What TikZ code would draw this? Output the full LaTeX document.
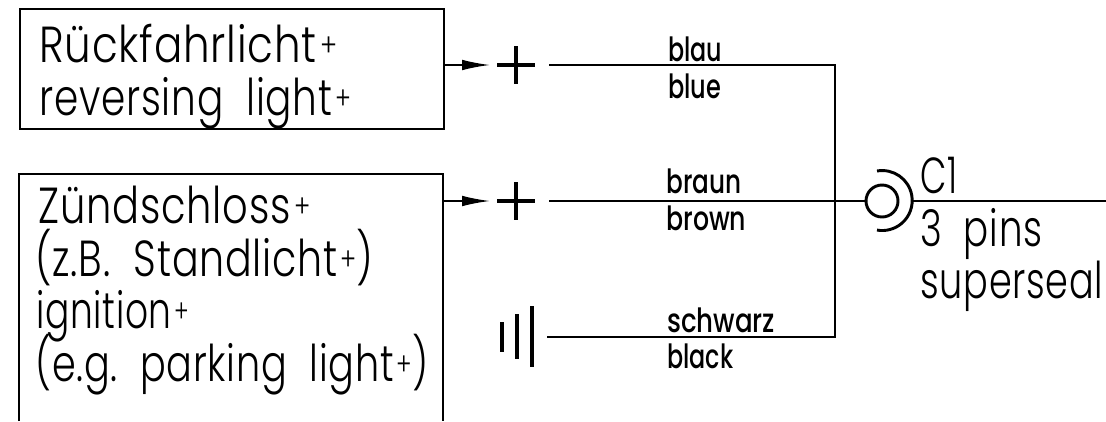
\documentclass[tikz,border=0pt]{standalone}
\usepackage{fontspec}
\usepackage{graphicx}
\setmainfont{Poppins}[UprightFont={* Light},LetterSpace=2]
\newfontfamily\smallfam{Poppins}[UprightFont={* Medium}]
\usetikzlibrary{arrows.meta}
\tikzset{
 x=0.75pt,y=-0.75pt,
 boxline/.style={draw=black,line width=1.6pt,line join=miter},
 wire/.style={draw=black,line width=1.3pt},
 sym/.style={draw=black,line width=3pt},
 big/.style={anchor=base west,inner sep=0pt,font=\fontsize{38}{38}\selectfont},
 small/.style={anchor=base west,inner sep=0pt,font=\smallfam\fontsize{25}{25}\selectfont},
 feed/.style={draw=black,line width=1.3pt,-{Latex[length=21pt,width=8pt]}},
}
% set a text to a given width in reference pixels, its height unchanged
\newcommand{\fitw}[2]{\resizebox{#1\dimexpr 0.75pt\relax}{\height}{#2}}
\newcommand{\pl}{\kern.08em\raisebox{.1em}{\scalebox{.62}{+}}}
\begin{document}
\begin{tikzpicture}
\useasboundingbox (0,0) rectangle (1106,421);
\node[boxline,anchor=north west,inner sep=0pt,minimum width=318pt,minimum height=90pt] (rev) at (19,8) {};
\coordinate (zTL) at (19,174); \coordinate (zTR) at (443,174);
\coordinate (zBL) at (19,421); \coordinate (zBR) at (443,421);
\draw[boxline] (zBL) -- (zTL) -- (zTR) -- (zBR);
% labels
\node[big] (t1) at (39,62) {\fitw{298}{Rückfahrlicht\pl}};
\node[big] (t2) at (39,115) {\fitw{312}{reversing\ \ light\pl}};
\node[big] (t3) at (38,223) {\fitw{272}{Zündschloss\pl}};
\node[big] (t4) at (35,276) {\fitw{338}{(z.B.\ \ Standlicht\pl)}};
\node[big] (t5) at (36,328) {\fitw{153}{ignition\pl}};
\node[big] (t6) at (35,381) {\fitw{393}{(e.g.\ \ parking\ \ light\pl)}};
\node[big] (t7) at (920,193) {\fitw{37}{C1}};
\node[big] (t8) at (920,246) {\fitw{122}{3\ \ pins}};
\node[big] (t9) at (920,298) {\fitw{183}{superseal}};
\node[small] (w1) at (668,61) {\fitw{54}{blau}};
\node[small] (w2) at (668,98) {\fitw{53}{blue}};
\node[small] (w3) at (666,193) {\fitw{75}{braun}};
\node[small] (w4) at (666,230) {\fitw{80}{brown}};
\node[small] (w5) at (667,332) {\fitw{108}{schwarz}};
\node[small] (w6) at (667,368) {\fitw{66}{black}};
% feeds
\coordinate (a1s) at (443,65); \coordinate (a1e) at (490,65);
\coordinate (a2s) at (443,201); \coordinate (a2e) at (490,201);
\draw[feed] (a1s) -- (a1e);
\draw[feed] (a2s) -- (a2e);
% plus signs
\coordinate (p1l) at (497,65); \coordinate (p1r) at (535,65);
\coordinate (p1t) at (516,46); \coordinate (p1b) at (516,84);
\coordinate (p2l) at (497,201); \coordinate (p2r) at (535,201);
\coordinate (p2t) at (516,182); \coordinate (p2b) at (516,220);
\draw[sym] (p1l) -- (p1r) (p1t) -- (p1b) (p2l) -- (p2r) (p2t) -- (p2b);
% ground
\coordinate (g1t) at (502,322); \coordinate (g1b) at (502,352);
\coordinate (g2t) at (517,314); \coordinate (g2b) at (517,359);
\coordinate (g3t) at (532,306); \coordinate (g3b) at (532,367);
\draw[sym] (g1t) -- (g1b) (g2t) -- (g2b) (g3t) -- (g3b);
% wires
\coordinate (l1) at (549,65); \coordinate (l2) at (549,201); \coordinate (l3) at (547,337);
\coordinate (j1) at (835,65); \coordinate (j3) at (835,337);
\coordinate (c) at (882,201);
\node[draw=black,line width=2.2pt,circle,inner sep=0pt,minimum size=24pt] (pin) at (c) {};
\coordinate (out) at (1106,201);
\coordinate (sock) at (912,201);
\draw[wire] (l1) -- (j1) -- (j3) -- (l3);
\draw[wire] (l2) -- (pin.west);
\draw[wire] (sock) -- (out);
\draw[draw=black,line width=2.2pt] (877,171) arc[start angle=100,end angle=-100,radius=22.5pt];
\end{tikzpicture}
\end{document}
